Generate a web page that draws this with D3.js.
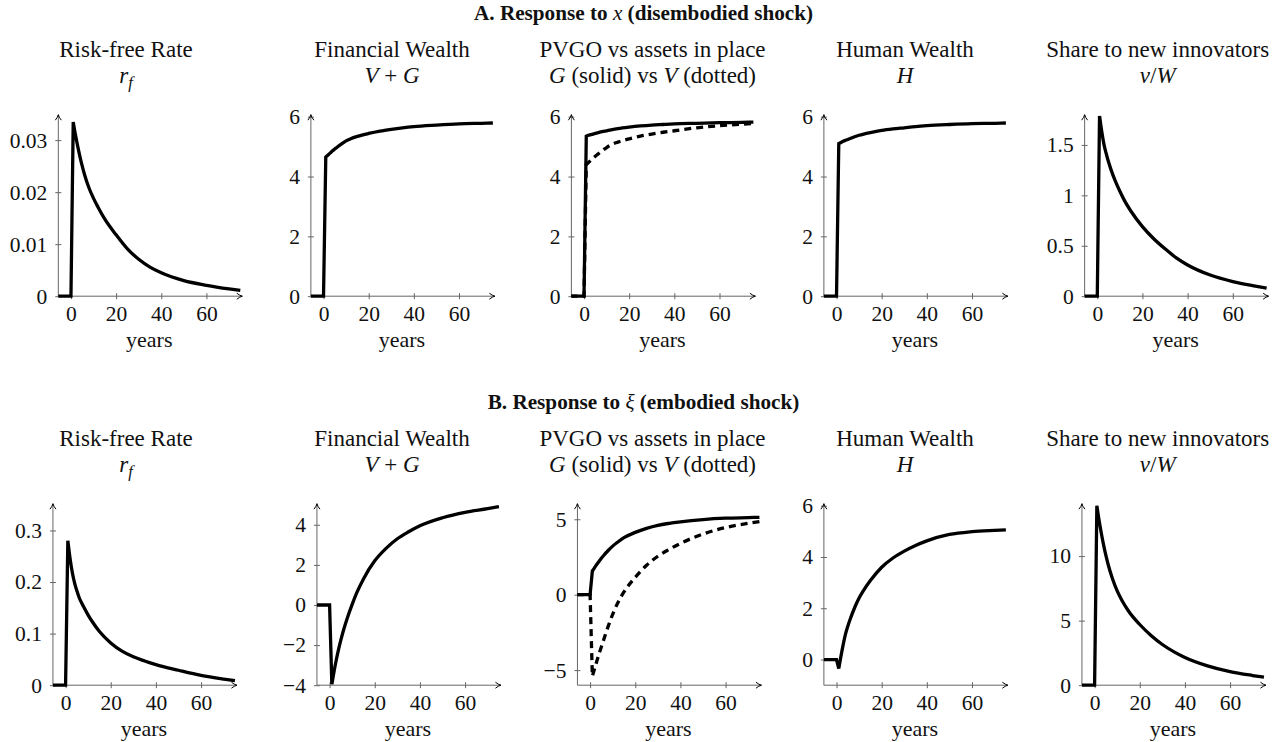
<!DOCTYPE html>
<html>
<head>
<meta charset="utf-8">
<script src="https://cdn.jsdelivr.net/npm/d3@7"></script>
<style>
body { margin: 0; background: #fff; }
svg text { font-family: "Liberation Serif", "DejaVu Serif", serif; fill: #111; }
</style>
</head>
<body>
<div id="chart"></div>
<script>
// sample years (the first two points are the pre-shock zero path)
var years = [-6, 0, 1, 2, 3, 4, 5, 6, 8, 10, 12, 15, 20, 25, 30, 35, 40, 50, 60, 70, 75];

// A. response to x (disembodied shock)
var rfA = [0, 0, 0.0335, 0.031, 0.0288, 0.0268, 0.025, 0.0234, 0.0208, 0.0188, 0.0171, 0.0148, 0.0118, 0.0091, 0.0071, 0.0056, 0.0045, 0.003, 0.0021, 0.0014, 0.0011];
var vgA = [0, 0, 4.65, 4.72, 4.79, 4.86, 4.92, 4.98, 5.09, 5.19, 5.26, 5.34, 5.44, 5.52, 5.58, 5.63, 5.67, 5.72, 5.76, 5.78, 5.79];
var gA  = [0, 0, 5.35, 5.38, 5.4, 5.42, 5.44, 5.46, 5.5, 5.53, 5.56, 5.6, 5.65, 5.69, 5.72, 5.74, 5.76, 5.78, 5.8, 5.81, 5.82];
var vA  = [0, 0, 4.4, 4.47, 4.54, 4.61, 4.68, 4.74, 4.86, 4.97, 5.06, 5.15, 5.26, 5.35, 5.42, 5.48, 5.53, 5.63, 5.7, 5.75, 5.77];
var hA  = [0, 0, 5.1, 5.14, 5.18, 5.21, 5.24, 5.27, 5.33, 5.38, 5.42, 5.47, 5.54, 5.59, 5.63, 5.67, 5.7, 5.74, 5.77, 5.78, 5.79];
var nuA = [0, 0, 1.79, 1.63, 1.5, 1.41, 1.33, 1.26, 1.14, 1.04, 0.95, 0.84, 0.69, 0.57, 0.47, 0.38, 0.31, 0.21, 0.145, 0.1, 0.08];

// B. response to xi (embodied shock)
var rfB = [0, 0, 0.28, 0.245, 0.218, 0.198, 0.183, 0.17, 0.152, 0.136, 0.122, 0.104, 0.082, 0.066, 0.055, 0.047, 0.04, 0.029, 0.019, 0.012, 0.009];
var vgB = [0, 0, -3.95, -3.3, -2.72, -2.2, -1.74, -1.32, -0.6, 0.03, 0.6, 1.3, 2.2, 2.82, 3.3, 3.65, 3.95, 4.35, 4.62, 4.8, 4.9];
var gB  = [0, 0, 1.57, 1.8, 2.02, 2.22, 2.42, 2.6, 2.93, 3.22, 3.46, 3.78, 4.13, 4.4, 4.6, 4.73, 4.83, 4.98, 5.07, 5.11, 5.13];
var vB  = [0, 0, -5.4, -4.9, -4.4, -3.9, -3.45, -3.0, -2.1, -1.3, -0.62, 0.18, 1.15, 1.95, 2.55, 3.0, 3.4, 4.02, 4.45, 4.73, 4.85];
var hB  = [0, 0, -0.35, 0.15, 0.6, 1.0, 1.3, 1.56, 2.02, 2.4, 2.7, 3.08, 3.6, 3.96, 4.23, 4.45, 4.63, 4.88, 4.99, 5.04, 5.06];
var nuB = [0, 0, 13.9, 12.75, 11.75, 10.85, 10.05, 9.35, 8.2, 7.3, 6.6, 5.75, 4.7, 3.85, 3.15, 2.6, 2.15, 1.5, 1.05, 0.75, 0.62];

var panelTitles = ["Risk-free Rate", "Financial Wealth", "PVGO vs assets in place", "Human Wealth", "Share to new innovators"];
var panelMath = [
  [["r", "i"], ["f", "sub"]],
  [["V", "i"], [" + ", ""], ["G", "i"]],
  [["G", "i"], [" (solid) vs ", ""], ["V", "i"], [" (dotted)", ""]],
  [["H", "i"]],
  [["ν", "i"], ["/", ""], ["W", "i"]]
];
var xTicks = [0, 20, 40, 60];
var xDomain = [-5.6, 75];

var rows = [
  {
    head: [["A. Response to ", ""], ["x", "i"], [" (disembodied shock)", ""]],
    series: [[rfA], [vgA], [gA, vA], [hA], [nuA]],
    yTicks: [[0, 0.01, 0.02, 0.03], [0, 2, 4, 6], [0, 2, 4, 6], [0, 2, 4, 6], [0, 0.5, 1, 1.5]],
    yDomain: [[0, 0.0345], [0, 6], [0, 6], [0, 6], [0, 1.78]]
  },
  {
    head: [["B. Response to ", ""], ["ξ", "i"], [" (embodied shock)", ""]],
    series: [[rfB], [vgB], [gB, vB], [hB], [nuB]],
    yTicks: [[0, 0.1, 0.2, 0.3], [-4, -2, 0, 2, 4], [-5, 0, 5], [0, 2, 4, 6], [0, 5, 10]],
    yDomain: [[0, 0.348], [-4, 4.95], [-6, 5.9], [-1, 6], [0, 13.9]]
  }
];

var colCenters = [126, 392, 652.5, 905, 1157.7];
var rowTop = [0, 389];
var plotW = 182, plotH = 179.5, plotY = 116.7;

var svg = d3.select("#chart").append("svg")
    .attr("width", 1287)
    .attr("height", 742);

svg.append("defs").append("marker")
    .attr("id", "arr")
    .attr("viewBox", "-8 -5 10 10")
    .attr("refX", 0).attr("refY", 0)
    .attr("markerWidth", 10).attr("markerHeight", 10)
    .attr("markerUnits", "userSpaceOnUse")
    .attr("orient", "auto")
  .append("path")
    .attr("d", "M-5.5,-3 Q-2.5,-0.6 0,0 Q-2.5,0.6 -5.5,3")
    .attr("fill", "none")
    .attr("stroke", "#000")
    .attr("stroke-width", 1);

function addRich(sel, parts, size) {
  parts.forEach(function (p) {
    var t = sel.append("tspan").text(p[0]);
    if (p[1] == "i") t.style("font-style", "italic").style("font-weight", "normal");
    if (p[1] == "sub") t.style("font-style", "italic").style("font-size", (size * 0.72) + "px").attr("dy", 5);
  });
}

function fmt(d) {
  return String(d).replace("-", "\u2212");
}

rows.forEach(function (row, r) {
  var head = svg.append("text")
      .attr("x", 643.5)
      .attr("y", rowTop[r] + 19.5)
      .attr("text-anchor", "middle")
      .style("font-weight", "bold")
      .style("font-size", "21.2px");
  addRich(head, row.head, 21.2);

  for (var c = 0; c < 5; c++) {
    var x = d3.scaleLinear().domain(xDomain).range([0, plotW]);
    var y = d3.scaleLinear().domain(row.yDomain[c]).range([plotH, 0]);

    svg.append("text")
        .attr("x", colCenters[c])
        .attr("y", rowTop[r] + 57)
        .attr("text-anchor", "middle")
        .style("font-size", "23px")
        .text(panelTitles[c]);
    var m = svg.append("text")
        .attr("x", colCenters[c])
        .attr("y", rowTop[r] + 83)
        .attr("text-anchor", "middle")
        .style("font-size", "23px");
    addRich(m, panelMath[c], 23);

    var g = svg.append("g");

    var ya = g.append("g")
        .call(d3.axisLeft(y).tickValues(row.yTicks[c]).tickSize(0).tickPadding(11).tickFormat(fmt));
    ya.select(".domain").remove();
    ya.selectAll(".tick").append("line")
        .attr("x1", -3).attr("x2", 3)
        .attr("stroke", "#666");
    ya.selectAll("text").style("font-size", "21.5px");

    var xa = g.append("g")
        .attr("transform", "translate(0," + plotH + ")")
        .call(d3.axisBottom(x).tickValues(xTicks).tickSize(0).tickPadding(10).tickFormat(fmt));
    xa.select(".domain").remove();
    xa.selectAll(".tick").append("line")
        .attr("y1", -3).attr("y2", 3)
        .attr("stroke", "#666");
    xa.selectAll("text").style("font-size", "21.5px");

    g.append("line")
        .attr("x1", 0).attr("y1", plotH)
        .attr("x2", plotW + 2).attr("y2", plotH)
        .attr("stroke", "#666").attr("stroke-width", 1)
        .attr("marker-end", "url(#arr)");
    g.append("line")
        .attr("x1", 0).attr("y1", plotH)
        .attr("x2", 0).attr("y2", -2)
        .attr("stroke", "#666").attr("stroke-width", 1)
        .attr("marker-end", "url(#arr)");

    g.append("text")
        .attr("x", plotW / 2)
        .attr("y", plotH + 51)
        .attr("text-anchor", "middle")
        .style("font-size", "22px")
        .text("years");

    var clipId = "clip" + r + c;
    g.append("clipPath").attr("id", clipId)
      .append("rect")
        .attr("x", 0).attr("y", -1)
        .attr("width", plotW + 3).attr("height", plotH + 4);

    var stepLine = d3.line()
        .x(function (d) { return x(d[0]); })
        .y(function (d) { return y(d[1]); });
    var decayLine = d3.line()
        .x(function (d) { return x(d[0]); })
        .y(function (d) { return y(d[1]); })
        .curve(d3.curveMonotoneX);

    // jump at the shock is straight, the decay after it is smooth; one path so the corner stays sharp
    function pathFor(s) {
      var pts = s.map(function (v, i) { return [years[i], v]; });
      var a = stepLine(pts.slice(0, 3));
      var b = decayLine(pts.slice(2));
      return a + b.slice(b.indexOf("C"));
    }

    // draw dotted series first so the solid one stays on top
    var list = row.series[c];
    for (var k = list.length - 1; k >= 0; k--) {
      g.append("path")
          .attr("clip-path", "url(#" + clipId + ")")
          .attr("fill", "none")
          .attr("stroke", "#000")
          .attr("stroke-width", 3.3)
          .attr("stroke-dasharray", k == 1 ? "7,5" : null)
          .attr("d", pathFor(list[k]));
    }

    var bb = ya.node().getBBox();
    var mid = (bb.x + plotW + 2) / 2;
    g.attr("transform", "translate(" + (colCenters[c] - mid) + "," + (rowTop[r] + plotY) + ")");
  }
});
</script>
</body>
</html>
